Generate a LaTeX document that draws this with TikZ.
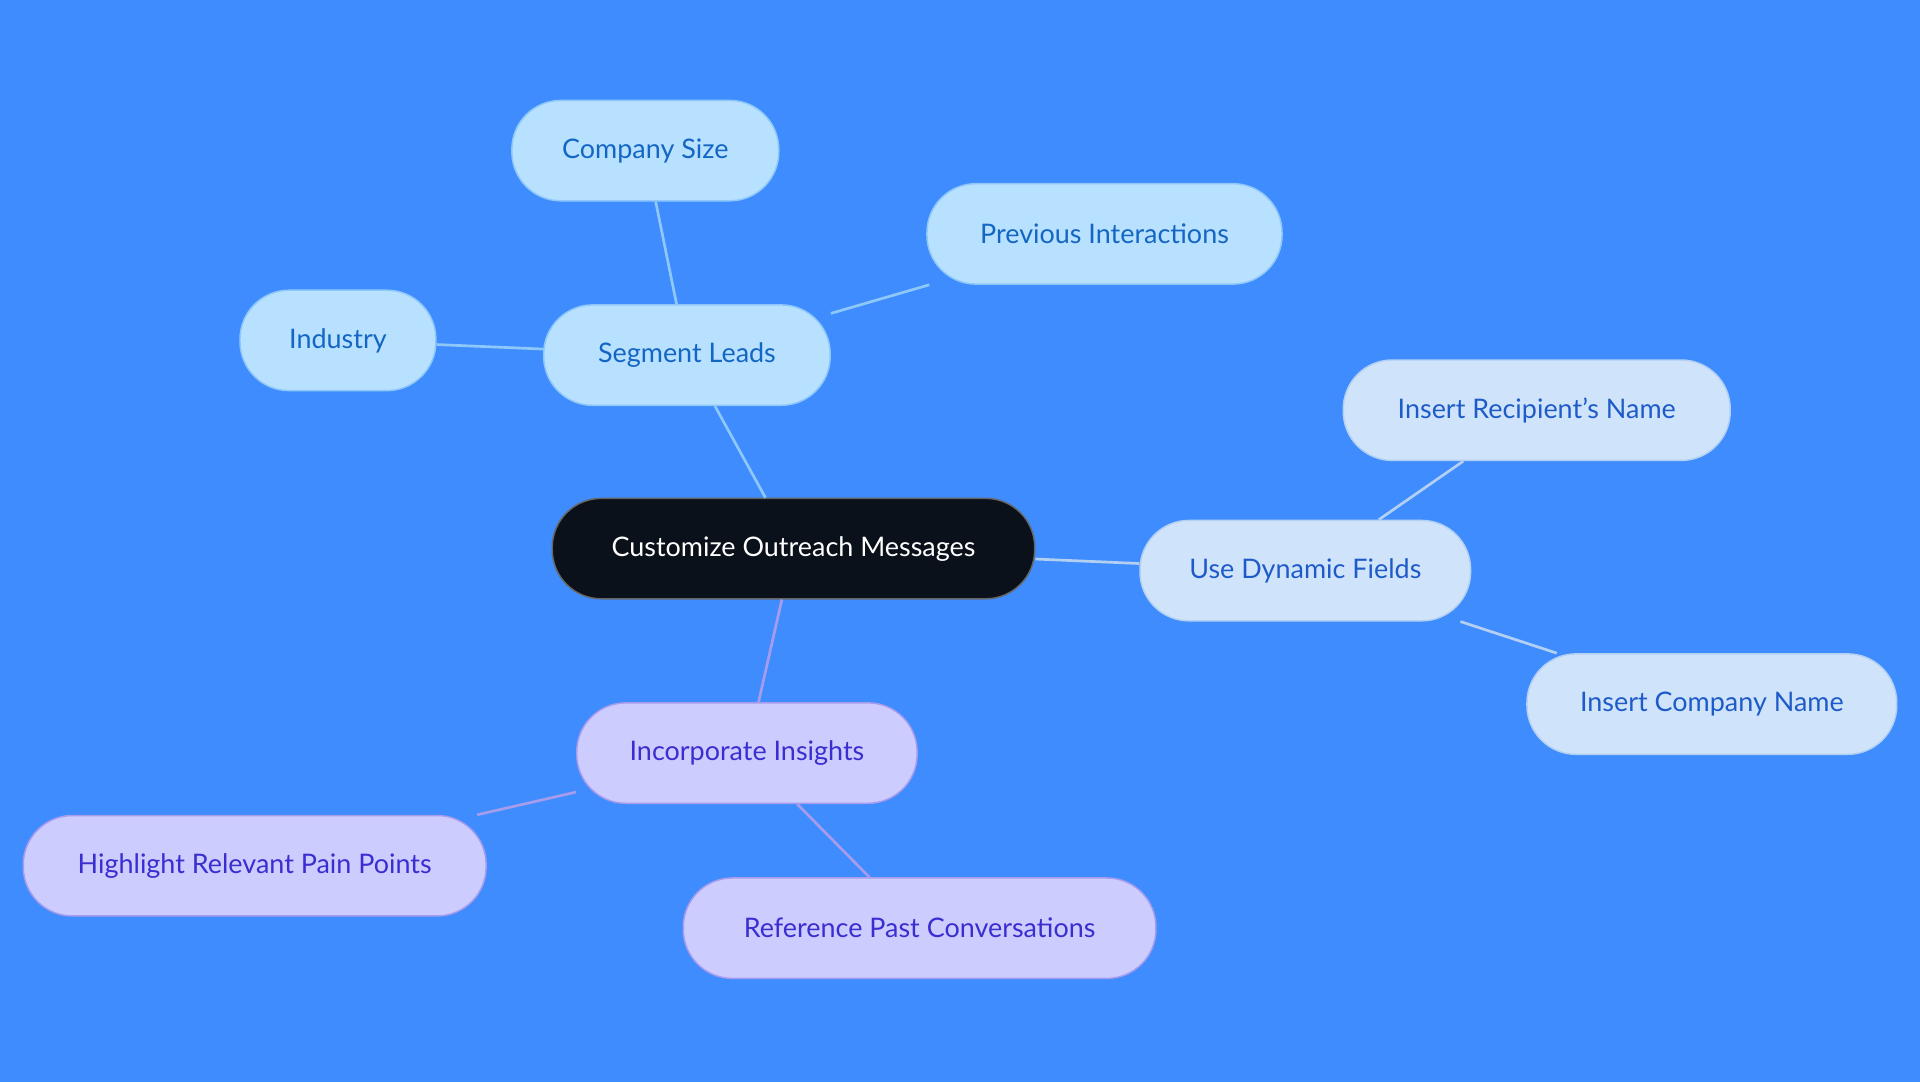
\documentclass[tikz,border=0pt]{standalone}
\usepackage{fontspec}
\setmainfont{Lato}
\definecolor{bgblue}{HTML}{3F8CFF}
\definecolor{segfill}{HTML}{B8E0FF}
\definecolor{segtext}{HTML}{1466C4}
\definecolor{segline}{HTML}{8EC8F8}
\definecolor{dynfill}{HTML}{CFE4FB}
\definecolor{dyntext}{HTML}{1E5BC8}
\definecolor{dynline}{HTML}{B3D0F2}
\definecolor{insfill}{HTML}{CCCCFF}
\definecolor{instext}{HTML}{3A2ED0}
\definecolor{insline}{HTML}{A69CEB}
\definecolor{rootfill}{HTML}{0B111A}
\tikzset{
  box/.style={rounded corners=40pt, minimum height=82pt, font=\fontsize{22}{26}\selectfont, line width=1.2pt},
  seg/.style={box, fill=segfill, draw=segline, text=segtext},
  dyn/.style={box, fill=dynfill, draw=dynline, text=dyntext},
  ins/.style={box, fill=insfill, draw=insline, text=instext},
  link/.style={line width=2.2pt}
}
\begin{document}
\begin{tikzpicture}[x=1pt, y=-1pt]
	%background
	\fill[bgblue] (0,0) rectangle (1568,884);
	\useasboundingbox (0,0) rectangle (1568,884);
	%nodes
	\node[box, fill=rootfill, draw=black!60, text=white, minimum width=394pt] (root) at (648,448) {Customize Outreach Messages};
	\node[seg, minimum width=234pt] (segment) at (561,290) {Segment Leads};
	\node[seg, minimum width=218pt] (size) at (527,123) {Company Size};
	\node[seg, minimum width=290pt] (previous) at (902,191) {Previous Interactions};
	\node[seg, minimum width=160pt] (industry) at (276,278) {Industry};
	\node[dyn, minimum width=270pt] (dynamic) at (1066,466) {Use Dynamic Fields};
	\node[dyn, minimum width=316pt] (recipient) at (1255,335) {Insert Recipient's Name};
	\node[dyn, minimum width=302pt] (company) at (1398,575) {Insert Company Name};
	\node[ins, minimum width=278pt] (insights) at (610,615) {Incorporate Insights};
	\node[ins, minimum width=378pt] (pain) at (208,707) {Highlight Relevant Pain Points};
	\node[ins, minimum width=386pt] (past) at (751,758) {Reference Past Conversations};
	%links
	\begin{scope}[on background layer/.style={}]
	\end{scope}
	\draw[link, segline] (root) -- (segment);
	\draw[link, segline] (segment) -- (size);
	\draw[link, segline] (segment) -- (previous);
	\draw[link, segline] (segment) -- (industry);
	\draw[link, dynline] (root) -- (dynamic);
	\draw[link, dynline] (dynamic) -- (recipient);
	\draw[link, dynline] (dynamic) -- (company);
	\draw[link, insline] (root) -- (insights);
	\draw[link, insline] (insights) -- (pain);
	\draw[link, insline] (insights) -- (past);
\end{tikzpicture}
\end{document}
